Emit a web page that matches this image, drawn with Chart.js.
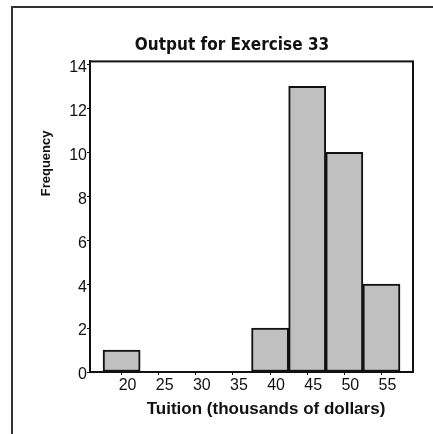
<!DOCTYPE html>
<html>
<head>
<meta charset="utf-8">
<script src="https://cdn.jsdelivr.net/npm/chart.js@4.4.1/dist/chart.umd.min.js"></script>
<style>
  html, body { margin: 0; padding: 0; background: #fff; overflow: hidden; }
  #frame { position: absolute; left: 11px; top: 6px; width: 440px; height: 440px;
           border-left: 2px solid #333; border-top: 2px solid #333; }
  #wrap { position: absolute; left: 0; top: 0; width: 433px; height: 434px; }
</style>
</head>
<body>
<div id="frame"></div>
<div id="wrap"><canvas id="chart" width="433" height="434"></canvas></div>
<script>
// Histogram of tuition (bin midpoints, thousands of dollars)
const binCenters = [20, 25, 30, 35, 40, 45, 50, 55];
const frequency = [1, 0, 0, 0, 2, 13, 10, 4];
const yTicks = [0, 2, 4, 6, 8, 10, 12, 14];

const chartTitle = 'Output for Exercise 33';
const xTitle = 'Tuition (thousands of dollars)';
const yTitle = 'Frequency';

// box round the plot + axis titles
const plotFrame = {
  id: 'plotFrame',
  afterDatasetsDraw(chart) {
    const { ctx, chartArea: a } = chart;
    ctx.save();
    ctx.strokeStyle = '#111';
    ctx.lineWidth = 2;
    ctx.strokeRect(a.left, a.top, a.right - a.left, a.bottom - a.top);
    ctx.fillStyle = '#111';
    ctx.textAlign = 'center';
    ctx.textBaseline = 'middle';
    ctx.font = 'bold 17px "Liberation Sans", Arial, sans-serif';
    ctx.fillText(xTitle, a.left + 176, a.bottom + 37);
    ctx.translate(a.left - 44, a.top + 102);
    ctx.rotate(-Math.PI / 2);
    ctx.font = 'bold 13px "Liberation Sans", Arial, sans-serif';
    ctx.fillText(yTitle, 0, 0);
    ctx.restore();
  }
};

const ctx = document.getElementById('chart').getContext('2d');
new Chart(ctx, {
  type: 'bar',
  data: {
    datasets: [{
      label: yTitle,
      data: binCenters.map((c, i) => ({ x: c, y: frequency[i] })),
      backgroundColor: '#c0c0c0',
      borderColor: '#111',
      borderWidth: 2,
      borderSkipped: false,
      barPercentage: 1,
      categoryPercentage: 1
    }]
  },
  options: {
    responsive: false,
    animation: false,
    layout: { padding: { left: 51, right: 20, top: 0, bottom: 0 } },
    plugins: {
      legend: { display: false },
      tooltip: { enabled: false },
      title: {
        display: true,
        text: chartTitle,
        color: '#111',
        font: { family: '"DejaVu Sans Condensed", "DejaVu Sans", sans-serif', size: 17, weight: 'bold' },
        padding: { top: 35, bottom: 6 }
      }
    },
    scales: {
      x: {
        type: 'linear',
        offset: false,
        min: 15.74,
        max: 59.25,
        afterBuildTicks: s => { s.ticks = binCenters.map(v => ({ value: v })); },
        afterFit: s => { s.height = 62; },
        grid: { drawOnChartArea: false, offset: false, tickLength: 3, color: '#111' },
        border: { color: '#111', width: 2 },
        ticks: {
          color: '#111',
          padding: 1,
          labelOffset: 6,
          maxRotation: 0,
          autoSkip: false,
          font: { family: '"Liberation Sans", Arial, sans-serif', size: 16 }
        }
      },
      y: {
        min: 0,
        max: 14.14,
        afterBuildTicks: s => { s.ticks = yTicks.map(v => ({ value: v })); },
        afterFit: s => { s.width = 39; },
        grid: { drawOnChartArea: false, tickLength: 3, color: '#111' },
        border: { color: '#111', width: 2 },
        ticks: {
          color: '#111',
          padding: 0,
          labelOffset: 3,
          font: { family: '"Liberation Sans", Arial, sans-serif', size: 16 }
        }
      }
    }
  },
  plugins: [plotFrame]
});
</script>
</body>
</html>
